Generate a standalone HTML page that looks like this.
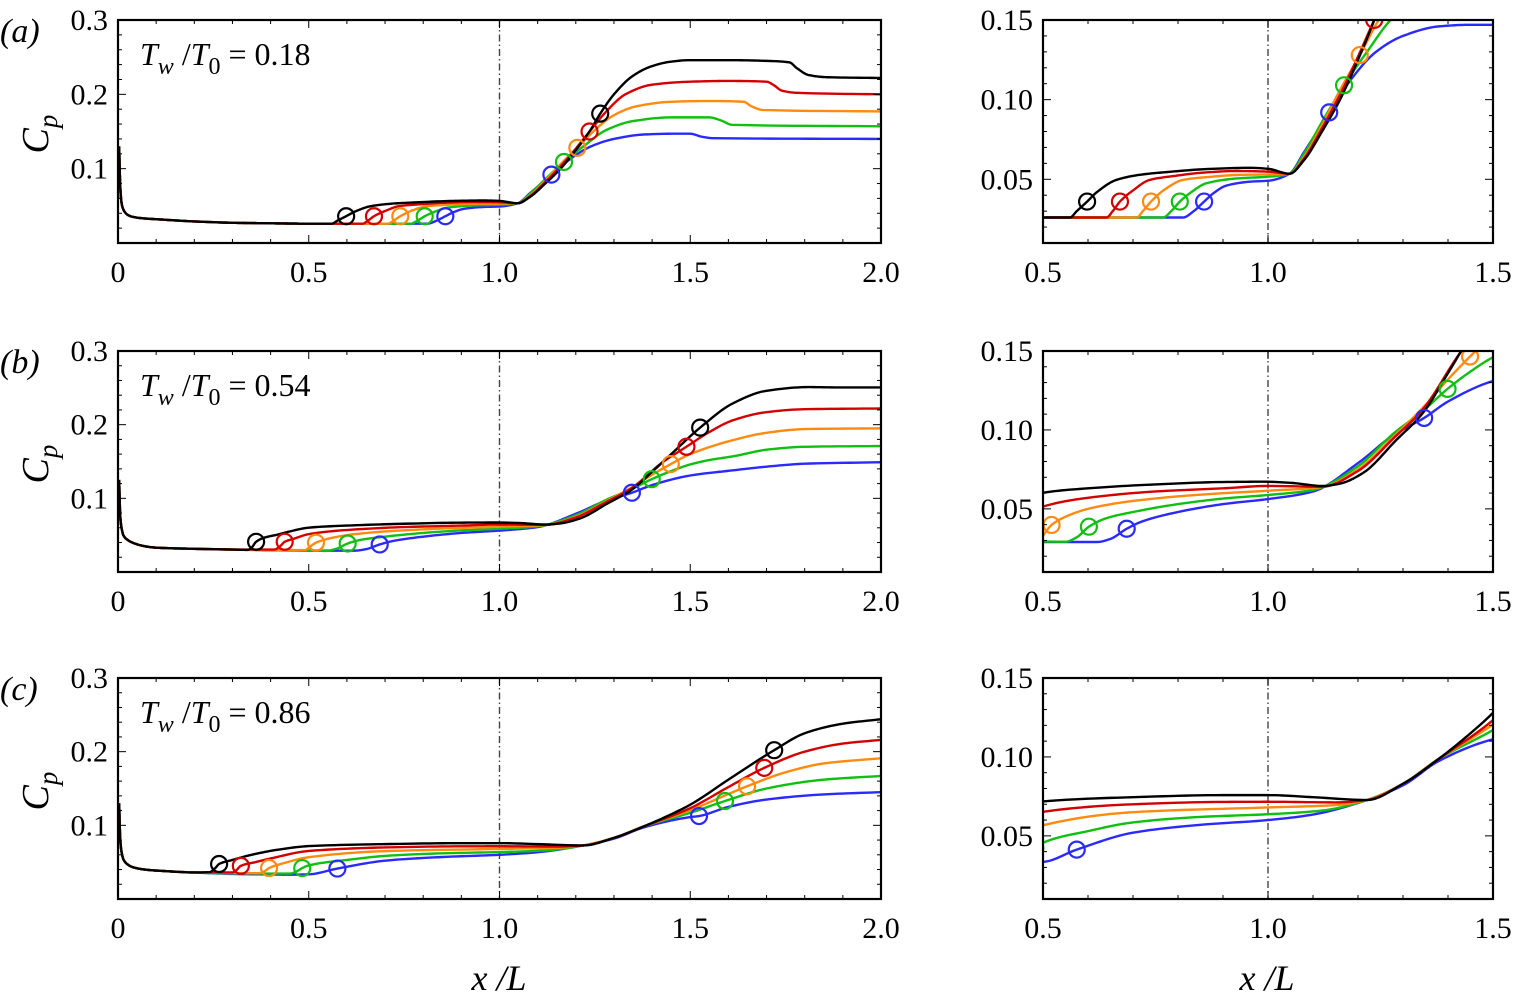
<!DOCTYPE html>
<html><head><meta charset="utf-8">
<style>
html,body{margin:0;padding:0;background:#fff;}
svg{display:block;}
text{font-family:"Liberation Serif",serif;fill:#000;}
</style></head>
<body>
<svg id="fig" width="1513" height="1003" viewBox="0 0 1513 1003" xmlns="http://www.w3.org/2000/svg"></svg>
<script>
// ---------- data ----------
const seriesNames = ['blue','green','orange','red','black'];
const seriesColors = ['#2a2aff','#10c010','#ff8a10','#d40000','#000000'];

const startA = [[0.003,0.13],[0.006,0.075],[0.01,0.052],[0.015,0.044],[0.025,0.038],[0.04,0.035],[0.07,0.033],[0.1,0.032],[0.2,0.029],[0.3,0.0272],[0.4,0.0265],[0.5,0.026]];
const aBlack = [[0.56,0.026],[0.575,0.03],[0.598,0.036],[0.62,0.042],[0.663,0.0496],[0.72,0.053],[0.774,0.0545],[0.87,0.0565],[0.96,0.0572],[1.0,0.0566],[1.048,0.0535],[1.08,0.062],[1.12,0.08],[1.16,0.1],[1.2,0.125],[1.236,0.15],[1.264,0.174],[1.3,0.2],[1.35,0.225],[1.4,0.238],[1.45,0.244],[1.5,0.246],[1.6,0.246],[1.7,0.245],[1.76,0.243],[1.78,0.235],[1.81,0.226],[1.86,0.223],[2.0,0.222]];
const aRed = [[0.641,0.026],[0.655,0.03],[0.671,0.036],[0.7,0.043],[0.737,0.0496],[0.79,0.052],[0.848,0.054],[0.93,0.0552],[1.0,0.0548],[1.048,0.0535],[1.08,0.063],[1.12,0.082],[1.16,0.103],[1.2,0.127],[1.236,0.15],[1.28,0.177],[1.33,0.2],[1.4,0.213],[1.5,0.217],[1.6,0.218],[1.7,0.217],[1.72,0.212],[1.74,0.205],[1.78,0.202],[2.0,0.2]];
const aOrange = [[0.708,0.026],[0.722,0.03],[0.74,0.036],[0.77,0.0435],[0.811,0.0496],[0.87,0.0515],[0.94,0.0528],[1.0,0.053],[1.048,0.0535],[1.08,0.064],[1.12,0.084],[1.16,0.106],[1.204,0.128],[1.25,0.152],[1.3,0.172],[1.36,0.184],[1.45,0.19],[1.55,0.191],[1.64,0.19],[1.66,0.184],[1.69,0.179],[2.0,0.177]];
const aGreen = [[0.767,0.026],[0.785,0.03],[0.804,0.036],[0.83,0.042],[0.863,0.0475],[0.93,0.0505],[1.0,0.0516],[1.048,0.0535],[1.08,0.066],[1.12,0.086],[1.169,0.109],[1.22,0.13],[1.28,0.152],[1.35,0.164],[1.45,0.169],[1.55,0.169],[1.58,0.165],[1.61,0.159],[2.0,0.157]];
const aBlue = [[0.811,0.026],[0.835,0.03],[0.858,0.036],[0.88,0.0415],[0.907,0.046],[0.96,0.0485],[1.0,0.0491],[1.048,0.0535],[1.08,0.067],[1.136,0.092],[1.18,0.111],[1.24,0.13],[1.3,0.14],[1.38,0.146],[1.45,0.147],[1.5,0.147],[1.53,0.143],[1.56,0.141],[2.0,0.14]];

const startB = [[0.003,0.125],[0.006,0.075],[0.01,0.058],[0.014,0.05],[0.024,0.044],[0.042,0.039],[0.07,0.035],[0.1,0.033],[0.2,0.0315],[0.3,0.0305]];
const bBlack = [[0.34,0.03],[0.35,0.033],[0.362,0.041],[0.38,0.046],[0.42,0.051],[0.45,0.055],[0.5,0.0602],[0.6,0.063],[0.75,0.0655],[0.9,0.067],[0.99,0.0672],[1.05,0.0665],[1.122,0.0645],[1.16,0.066],[1.211,0.0727],[1.285,0.0936],[1.344,0.1107],[1.4,0.136],[1.45,0.16],[1.526,0.196],[1.612,0.229],[1.7,0.246],[1.81,0.251],[1.9,0.2505],[2.0,0.2505]];
const bRed = [[0.41,0.0305],[0.425,0.035],[0.437,0.041],[0.46,0.045],[0.5,0.0514],[0.6,0.057],[0.75,0.061],[0.9,0.063],[1.0,0.0645],[1.12,0.064],[1.2,0.074],[1.28,0.095],[1.344,0.113],[1.43,0.15],[1.49,0.17],[1.55,0.19],[1.612,0.206],[1.7,0.217],[1.8,0.221],[2.0,0.222]];
const bOrange = [[0.49,0.0298],[0.505,0.035],[0.519,0.0398],[0.55,0.045],[0.6,0.05],[0.7,0.055],[0.85,0.059],[1.0,0.0615],[1.12,0.0638],[1.2,0.075],[1.28,0.096],[1.344,0.114],[1.4,0.132],[1.449,0.1465],[1.5,0.16],[1.612,0.179],[1.7,0.189],[1.8,0.194],[2.0,0.195]];
const bGreen = [[0.55,0.0292],[0.575,0.032],[0.602,0.0387],[0.64,0.044],[0.7,0.048],[0.8,0.053],[0.9,0.0565],[1.0,0.0588],[1.1,0.062],[1.2,0.077],[1.28,0.098],[1.344,0.112],[1.399,0.126],[1.45,0.137],[1.5,0.146],[1.55,0.152],[1.612,0.157],[1.7,0.166],[1.8,0.17],[2.0,0.171]];
const bBlue = [[0.5,0.029],[0.62,0.029],[0.65,0.031],[0.686,0.0374],[0.72,0.042],[0.8,0.048],[0.9,0.053],[1.0,0.0562],[1.1,0.061],[1.2,0.079],[1.28,0.097],[1.347,0.1076],[1.4,0.118],[1.5,0.131],[1.612,0.138],[1.7,0.143],[1.8,0.147],[2.0,0.149]];

const startC = [[0.003,0.13],[0.006,0.08],[0.01,0.062],[0.015,0.053],[0.025,0.047],[0.04,0.043],[0.07,0.04],[0.12,0.038],[0.2,0.036]];
const cBlack = [[0.24,0.0365],[0.255,0.042],[0.265,0.0475],[0.3,0.053],[0.35,0.06],[0.42,0.067],[0.5,0.0718],[0.7,0.0745],[0.9,0.0758],[1.0,0.0758],[1.1,0.0745],[1.22,0.0727],[1.3,0.083],[1.38,0.0989],[1.45,0.115],[1.5,0.128],[1.6,0.162],[1.72,0.202],[1.8,0.225],[1.9,0.238],[2.0,0.244]];
const cRed = [[0.3,0.036],[0.31,0.039],[0.322,0.045],[0.36,0.05],[0.4,0.055],[0.5,0.0652],[0.7,0.07],[0.9,0.0715],[1.0,0.0716],[1.15,0.0712],[1.22,0.0727],[1.3,0.083],[1.38,0.0989],[1.5,0.1233],[1.6,0.152],[1.694,0.178],[1.8,0.2],[1.9,0.211],[2.0,0.216]];
const cOrange = [[0.37,0.035],[0.385,0.038],[0.396,0.042],[0.43,0.048],[0.5,0.0567],[0.7,0.065],[1.0,0.068],[1.15,0.0695],[1.22,0.0727],[1.3,0.083],[1.38,0.0989],[1.5,0.1206],[1.649,0.153],[1.75,0.172],[1.85,0.184],[2.0,0.191]];
const cGreen = [[0.3,0.0348],[0.45,0.0345],[0.47,0.038],[0.483,0.042],[0.5,0.0456],[0.6,0.053],[0.7,0.0585],[0.85,0.062],[1.0,0.0637],[1.12,0.066],[1.22,0.0727],[1.3,0.083],[1.38,0.0989],[1.5,0.117],[1.591,0.133],[1.7,0.15],[1.85,0.162],[2.0,0.167]];
const cBlue = [[0.3,0.034],[0.4,0.0333],[0.45,0.033],[0.5,0.0335],[0.575,0.0413],[0.7,0.052],[0.85,0.057],[1.0,0.06],[1.1,0.0635],[1.22,0.0727],[1.3,0.082],[1.38,0.0975],[1.5,0.1112],[1.523,0.1126],[1.6,0.125],[1.7,0.135],[1.85,0.142],[2.0,0.145]];

// circle markers (order: black, red, orange, green, blue)
const markColors = ['#000000','#d40000','#ff8a10','#10c010','#2a2aff'];
const aLowX = [0.598,0.671,0.74,0.804,0.858];   const aLowY = [0.036,0.036,0.036,0.036,0.036];
const aUpX  = [1.264,1.236,1.204,1.169,1.136];  const aUpY  = [0.174,0.15,0.128,0.109,0.092];
const bLowX = [0.362,0.437,0.519,0.602,0.686];  const bLowY = [0.041,0.041,0.0398,0.0387,0.0374];
const bUpX  = [1.526,1.49,1.449,1.399,1.347];   const bUpY  = [0.196,0.17,0.1465,0.126,0.1076];
const cLowX = [0.265,0.322,0.396,0.483,0.575];  const cLowY = [0.0475,0.045,0.042,0.042,0.0413];
const cUpX  = [1.72,1.694,1.649,1.591,1.523];   const cUpY  = [0.202,0.178,0.153,0.133,0.1126];

const leftXTicks = ['0','0.5','1.0','1.5','2.0'];
const leftYTicks = ['0.1','0.2','0.3'];
const rightXTicks = ['0.5','1.0','1.5'];
const rightYTicks = ['0.05','0.10','0.15'];
const tempRatios = ['0.18','0.54','0.86'];

// ---------- drawing ----------
const NS='http://www.w3.org/2000/svg';
const svg=document.getElementById('fig');
function el(tag,attrs,parent){const e=document.createElementNS(NS,tag);for(const k in attrs)e.setAttribute(k,attrs[k]);(parent||svg).appendChild(e);return e;}

const rowTop=[20,351,678], rowBot=[243,572,899];
const cases=[
  {start:startA, series:[aBlue,aGreen,aOrange,aRed,aBlack], low:[aLowX,aLowY], up:[aUpX,aUpY]},
  {start:startB, series:[bBlue,bGreen,bOrange,bRed,bBlack], low:[bLowX,bLowY], up:[bUpX,bUpY]},
  {start:startC, series:[cBlue,cGreen,cOrange,cRed,cBlack], low:[cLowX,cLowY], up:[cUpX,cUpY]}
];

function monotonePts(pts){
  const n=pts.length, xs=pts.map(p=>p[0]), ys=pts.map(p=>p[1]);
  const d=[],m=new Array(n).fill(0);
  for(let i=0;i<n-1;i++)d.push((ys[i+1]-ys[i])/(xs[i+1]-xs[i]));
  m[0]=d[0];m[n-1]=d[n-2];
  for(let i=1;i<n-1;i++){ if(d[i-1]*d[i]<=0)m[i]=0; else { const w1=2*(xs[i+1]-xs[i])+(xs[i]-xs[i-1]), w2=(xs[i+1]-xs[i])+2*(xs[i]-xs[i-1]); m[i]=(w1+w2)/(w1/d[i-1]+w2/d[i]); } }
  const out=[];
  for(let i=0;i<n-1;i++){const h=xs[i+1]-xs[i];const N=12;
    for(let k=0;k<N;k++){const t=k/N,t2=t*t,t3=t2*t;
      const y=(2*t3-3*t2+1)*ys[i]+(t3-2*t2+t)*h*m[i]+(-2*t3+3*t2)*ys[i+1]+(t3-t2)*h*m[i+1];
      out.push([xs[i]+t*h,y]);}}
  out.push([xs[n-1],ys[n-1]]);return out;
}

function drawPanel(r,isRight){
  const c=cases[r];
  const x0=isRight?1043:118, x1=isRight?1493:881;
  const xmin=isRight?0.5:0, xmax=isRight?1.5:2;
  const ymin=isRight?0.01:0, ymax=isRight?0.15:0.3;
  const y0=rowTop[r], y1=rowBot[r];
  const sx=v=>x0+(v-xmin)/(xmax-xmin)*(x1-x0);
  const sy=v=>y1-(v-ymin)/(ymax-ymin)*(y1-y0);
  const pname=(isRight?'zoom-panel-':'panel-')+'abc'[r];
  const g=el('g',{});
  
  
  const cid='clip'+r+(isRight?'R':'L');
  const cp=el('clipPath',{id:cid},g); el('rect',{x:x0,y:y0,width:x1-x0,height:y1-y0},cp);
  const dl=el('line',{x1:sx(1),x2:sx(1),y1:y0,y2:y1,stroke:'#444','stroke-width':1.4,'stroke-dasharray':'7 3 1.5 3'},g);
  
  
  const cg=el('g',{'clip-path':'url(#'+cid+')'},g);
  c.series.forEach((s,i)=>{
    const pts=monotonePts(c.start.filter(p=>p[0]<s[0][0]).concat(s));
    const dstr=pts.map((p,k)=>(k?'L':'M')+sx(p[0]).toFixed(2)+','+sy(p[1]).toFixed(2)).join('');
    const p=el('path',{d:dstr,fill:'none',stroke:seriesColors[i],'stroke-width':2.4,'stroke-linejoin':'round'},cg);
    
    
  });
  [c.low,c.up].forEach((arr,j)=>{
    arr[0].forEach((xv,i)=>{
      const m=el('circle',{cx:sx(xv),cy:sy(arr[1][i]),r:8,fill:'none',stroke:markColors[i],'stroke-width':2.2},cg);
      
      
    });
  });
  const fr=el('rect',{x:x0,y:y0,width:x1-x0,height:y1-y0,fill:'none',stroke:'#000','stroke-width':2.2},g);
  
  
  const tk=el('g',{stroke:'#000','stroke-width':1},g);
  const xstep=0.1, ystep=isRight?0.01:0.02;
  for(let v=xmin;v<=xmax+1e-9;v+=xstep){const X=sx(v);const major=Math.abs(v*2-Math.round(v*2))<1e-6;const L=major?8:4;
    el('line',{x1:X,x2:X,y1:y1,y2:y1-L},tk);el('line',{x1:X,x2:X,y1:y0,y2:y0+L},tk);}
  for(let v=ymin;v<=ymax+1e-9;v+=ystep){const Y=sy(v);const major=isRight?Math.abs(v*20-Math.round(v*20))<1e-6:Math.abs(v*10-Math.round(v*10))<1e-6;const L=major?8:4;
    el('line',{x1:x0,x2:x0+L,y1:Y,y2:Y},tk);el('line',{x1:x1,x2:x1-L,y1:Y,y2:Y},tk);}
  const xt=isRight?rightXTicks:leftXTicks;
  xt.forEach(t=>{const e=el('text',{x:sx(parseFloat(t)),y:y1+39,'font-size':30,'text-anchor':'middle'});e.textContent=t;
    });
  const yt=isRight?rightYTicks:leftYTicks;
  yt.forEach(t=>{const e=el('text',{x:x0-10,y:sy(parseFloat(t))+10,'font-size':30,'text-anchor':'end'});e.textContent=t;
    });
  if(!isRight){
    const lab=el('text',{x:0,y:y0+22,'font-size':34,'font-style':'italic'});
    lab.textContent='('+'abc'[r]+')';
    
    const ann=el('text',{x:140,y:y0+45,'font-size':32});
    ann.innerHTML='<tspan font-style="italic">T</tspan><tspan font-style="italic" font-size="24" dy="9">w</tspan><tspan dy="-9"> /</tspan><tspan font-style="italic">T</tspan><tspan font-size="24" dy="9">0</tspan><tspan dy="-9"> = '+tempRatios[r]+'</tspan>';
    
    const yl=el('text',{transform:'translate(48,'+((y0+y1)/2+22)+') rotate(-90)','font-size':38,'font-style':'italic'});
    yl.innerHTML='C<tspan font-size="27" dy="9">p</tspan>';
    
  }
}
for(let r=0;r<3;r++){drawPanel(r,false);drawPanel(r,true);}
[[499,'x-axis-title-left'],[1267,'x-axis-title-right']].forEach(([cx,n])=>{
  const t=el('text',{x:cx,y:990,'font-size':36,'text-anchor':'middle','font-style':'italic'});
  t.textContent='x /L';
  
});
</script>
</body></html>
